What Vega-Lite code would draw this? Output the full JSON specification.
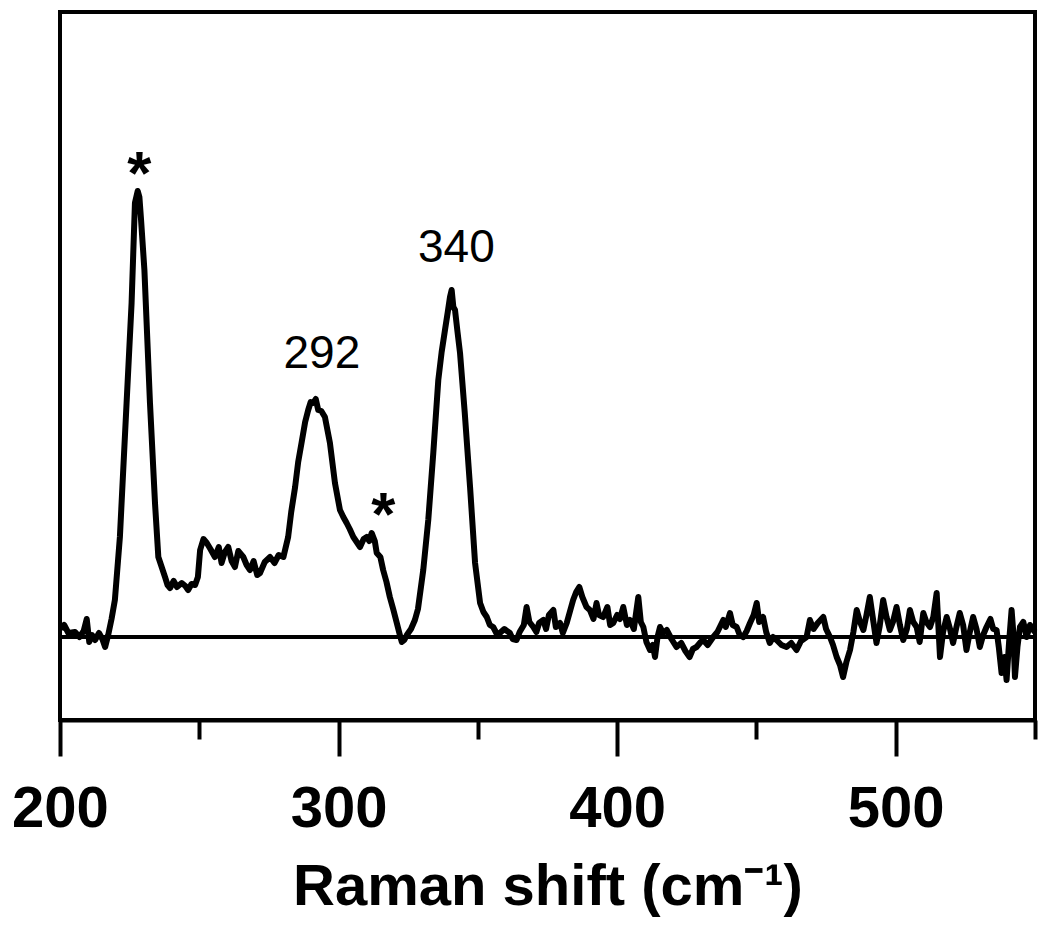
{
  "$schema": "https://vega.github.io/schema/vega-lite/v6.json",
  "width": 975,
  "height": 708,
  "autosize": {"type": "none"},
  "padding": {"left": 60, "top": 12, "right": 15, "bottom": 218},
  "background": "white",
  "config": {"view": {"stroke": "black", "strokeWidth": 4}},
  "datasets": {
    "spectrum": [
      {"shift": 200.3, "intensity": 8}, {"shift": 201.5, "intensity": 12}, {"shift": 203, "intensity": 4}, {"shift": 205.4, "intensity": 5},
      {"shift": 207, "intensity": 0}, {"shift": 208.5, "intensity": 6}, {"shift": 209.6, "intensity": 18}, {"shift": 210.5, "intensity": -5},
      {"shift": 211.5, "intensity": 2}, {"shift": 212.6, "intensity": -3}, {"shift": 214, "intensity": 4}, {"shift": 215.2, "intensity": -2},
      {"shift": 216.2, "intensity": -10}, {"shift": 217.3, "intensity": 2}, {"shift": 218.5, "intensity": 18}, {"shift": 219.7, "intensity": 37},
      {"shift": 221.5, "intensity": 100}, {"shift": 223.9, "intensity": 234}, {"shift": 225.7, "intensity": 334}, {"shift": 226.9, "intensity": 434},
      {"shift": 227.9, "intensity": 446}, {"shift": 228.5, "intensity": 440}, {"shift": 229.1, "intensity": 417}, {"shift": 230.3, "intensity": 367},
      {"shift": 232.3, "intensity": 234}, {"shift": 234.1, "intensity": 134}, {"shift": 235.3, "intensity": 80}, {"shift": 236.5, "intensity": 70},
      {"shift": 237.7, "intensity": 60}, {"shift": 238.6, "intensity": 52}, {"shift": 239.5, "intensity": 49}, {"shift": 240.8, "intensity": 56},
      {"shift": 242, "intensity": 50}, {"shift": 243.7, "intensity": 54}, {"shift": 245, "intensity": 51}, {"shift": 246, "intensity": 47},
      {"shift": 247.2, "intensity": 53}, {"shift": 248.5, "intensity": 52}, {"shift": 249.5, "intensity": 60}, {"shift": 250.3, "intensity": 87},
      {"shift": 251.5, "intensity": 98}, {"shift": 252.7, "intensity": 94}, {"shift": 254, "intensity": 88}, {"shift": 255.6, "intensity": 80},
      {"shift": 257, "intensity": 90}, {"shift": 258, "intensity": 74}, {"shift": 259.2, "intensity": 85}, {"shift": 260.4, "intensity": 90},
      {"shift": 261.6, "intensity": 76}, {"shift": 262.8, "intensity": 70}, {"shift": 264, "intensity": 86}, {"shift": 265.8, "intensity": 80},
      {"shift": 267, "intensity": 72}, {"shift": 268.2, "intensity": 67}, {"shift": 269.5, "intensity": 76}, {"shift": 270.8, "intensity": 62},
      {"shift": 271.8, "intensity": 64}, {"shift": 273.5, "intensity": 75}, {"shift": 275.4, "intensity": 80}, {"shift": 277, "intensity": 74},
      {"shift": 278.5, "intensity": 82}, {"shift": 280.2, "intensity": 80}, {"shift": 281.9, "intensity": 100}, {"shift": 283, "intensity": 125},
      {"shift": 284.4, "intensity": 150}, {"shift": 285.5, "intensity": 175}, {"shift": 286.7, "intensity": 194}, {"shift": 288, "intensity": 215},
      {"shift": 289.1, "intensity": 227}, {"shift": 290, "intensity": 235}, {"shift": 290.9, "intensity": 234}, {"shift": 291.8, "intensity": 238},
      {"shift": 292.7, "intensity": 227}, {"shift": 293.8, "intensity": 226}, {"shift": 295.1, "intensity": 220}, {"shift": 296.9, "intensity": 194},
      {"shift": 298.7, "intensity": 154}, {"shift": 300.5, "intensity": 127}, {"shift": 301.7, "intensity": 120}, {"shift": 302.9, "intensity": 114},
      {"shift": 304, "intensity": 108}, {"shift": 305.3, "intensity": 100}, {"shift": 306.5, "intensity": 95}, {"shift": 307.7, "intensity": 90},
      {"shift": 309, "intensity": 98}, {"shift": 310.1, "intensity": 100}, {"shift": 311, "intensity": 96}, {"shift": 311.9, "intensity": 104},
      {"shift": 313, "intensity": 96}, {"shift": 313.7, "intensity": 84}, {"shift": 315, "intensity": 80}, {"shift": 316, "intensity": 67},
      {"shift": 317.2, "intensity": 55}, {"shift": 318.4, "intensity": 40}, {"shift": 319.6, "intensity": 28}, {"shift": 320.9, "intensity": 14},
      {"shift": 322, "intensity": 2}, {"shift": 322.7, "intensity": -5}, {"shift": 323.6, "intensity": -3}, {"shift": 324.5, "intensity": 2},
      {"shift": 326, "intensity": 8}, {"shift": 327.4, "intensity": 17}, {"shift": 328.5, "intensity": 28}, {"shift": 330.4, "intensity": 67},
      {"shift": 332.2, "intensity": 117}, {"shift": 334, "intensity": 184}, {"shift": 335.8, "intensity": 257}, {"shift": 337, "intensity": 285},
      {"shift": 338.2, "intensity": 307}, {"shift": 339.2, "intensity": 325}, {"shift": 340, "intensity": 340}, {"shift": 340.6, "intensity": 347},
      {"shift": 341.2, "intensity": 330}, {"shift": 341.8, "intensity": 327}, {"shift": 342.7, "intensity": 305}, {"shift": 343.6, "intensity": 284},
      {"shift": 345.3, "intensity": 224}, {"shift": 347.2, "intensity": 150}, {"shift": 349, "intensity": 74}, {"shift": 350.8, "intensity": 34},
      {"shift": 352, "intensity": 25}, {"shift": 353.2, "intensity": 20}, {"shift": 354.3, "intensity": 12}, {"shift": 355.5, "intensity": 10},
      {"shift": 357, "intensity": 2}, {"shift": 357.9, "intensity": 4}, {"shift": 359.5, "intensity": 8}, {"shift": 361.5, "intensity": 4},
      {"shift": 362.5, "intensity": -2}, {"shift": 363.9, "intensity": -3}, {"shift": 365, "intensity": 5}, {"shift": 366.5, "intensity": 12},
      {"shift": 367.5, "intensity": 30}, {"shift": 368.5, "intensity": 15}, {"shift": 369.9, "intensity": 10}, {"shift": 371, "intensity": 5},
      {"shift": 372, "intensity": 14}, {"shift": 373.5, "intensity": 17}, {"shift": 374.5, "intensity": 8}, {"shift": 375.5, "intensity": 22},
      {"shift": 377.1, "intensity": 27}, {"shift": 378, "intensity": 10}, {"shift": 379.5, "intensity": 14}, {"shift": 380.5, "intensity": 4},
      {"shift": 381.9, "intensity": 14}, {"shift": 383, "intensity": 25}, {"shift": 384.2, "intensity": 37}, {"shift": 385.3, "intensity": 45},
      {"shift": 386.4, "intensity": 50}, {"shift": 387.5, "intensity": 40}, {"shift": 389, "intensity": 30}, {"shift": 390.2, "intensity": 27},
      {"shift": 391.5, "intensity": 18}, {"shift": 392.6, "intensity": 34}, {"shift": 393.5, "intensity": 22}, {"shift": 395, "intensity": 20},
      {"shift": 396.5, "intensity": 30}, {"shift": 397.5, "intensity": 12}, {"shift": 398.6, "intensity": 14}, {"shift": 400, "intensity": 22},
      {"shift": 401, "intensity": 18}, {"shift": 402.2, "intensity": 30}, {"shift": 403.5, "intensity": 12}, {"shift": 404.6, "intensity": 17},
      {"shift": 406, "intensity": 8}, {"shift": 407.6, "intensity": 40}, {"shift": 408.5, "intensity": 15}, {"shift": 409.4, "intensity": 10},
      {"shift": 410.5, "intensity": -5}, {"shift": 411.8, "intensity": -13}, {"shift": 412.8, "intensity": -8}, {"shift": 413.6, "intensity": -20},
      {"shift": 414.5, "intensity": 0}, {"shift": 415.4, "intensity": 10}, {"shift": 416.5, "intensity": 4}, {"shift": 417.8, "intensity": 7},
      {"shift": 419.5, "intensity": -2}, {"shift": 421.3, "intensity": -10}, {"shift": 423, "intensity": -6}, {"shift": 424.5, "intensity": -14},
      {"shift": 426, "intensity": -20}, {"shift": 427.2, "intensity": -12}, {"shift": 428.5, "intensity": -10}, {"shift": 430, "intensity": -5},
      {"shift": 430.9, "intensity": -3}, {"shift": 432.5, "intensity": -8}, {"shift": 434.5, "intensity": 0}, {"shift": 436, "intensity": 5},
      {"shift": 438.1, "intensity": 17}, {"shift": 439, "intensity": 10}, {"shift": 440.5, "intensity": 24}, {"shift": 441.5, "intensity": 12},
      {"shift": 442.9, "intensity": 10}, {"shift": 444, "intensity": 2}, {"shift": 445.3, "intensity": 0}, {"shift": 446.5, "intensity": 6},
      {"shift": 447.7, "intensity": 14}, {"shift": 449, "intensity": 22}, {"shift": 450.1, "intensity": 34}, {"shift": 451, "intensity": 15},
      {"shift": 452.4, "intensity": 20}, {"shift": 453.5, "intensity": 5}, {"shift": 454.8, "intensity": -6}, {"shift": 456, "intensity": 0},
      {"shift": 457.2, "intensity": -3}, {"shift": 459, "intensity": -8}, {"shift": 460.8, "intensity": -10}, {"shift": 462.5, "intensity": -6},
      {"shift": 464.4, "intensity": -13}, {"shift": 466, "intensity": -4}, {"shift": 468, "intensity": 0}, {"shift": 469.2, "intensity": 17},
      {"shift": 470.5, "intensity": 8}, {"shift": 472, "intensity": 14}, {"shift": 474, "intensity": 20}, {"shift": 475, "intensity": 8},
      {"shift": 476.4, "intensity": 0}, {"shift": 477.5, "intensity": -8}, {"shift": 478.8, "intensity": -20}, {"shift": 480, "intensity": -28},
      {"shift": 481.1, "intensity": -40}, {"shift": 482.3, "intensity": -25}, {"shift": 483.6, "intensity": -13}, {"shift": 484.8, "intensity": 5},
      {"shift": 486, "intensity": 27}, {"shift": 487.2, "intensity": 15}, {"shift": 488.4, "intensity": 7}, {"shift": 489.5, "intensity": 22},
      {"shift": 490.7, "intensity": 40}, {"shift": 492, "intensity": 15}, {"shift": 493.1, "intensity": -6}, {"shift": 494.2, "intensity": 10},
      {"shift": 495.5, "intensity": 37}, {"shift": 496.7, "intensity": 20}, {"shift": 497.9, "intensity": 7}, {"shift": 499, "intensity": 15},
      {"shift": 500.3, "intensity": 30}, {"shift": 501.5, "intensity": 12}, {"shift": 502.7, "intensity": -3}, {"shift": 504, "intensity": 8},
      {"shift": 505.1, "intensity": 27}, {"shift": 506.3, "intensity": 15}, {"shift": 507.5, "intensity": 10}, {"shift": 508.6, "intensity": -5},
      {"shift": 509.9, "intensity": 24}, {"shift": 511, "intensity": 15}, {"shift": 512.3, "intensity": 10}, {"shift": 513.5, "intensity": 20},
      {"shift": 514.7, "intensity": 44}, {"shift": 515.9, "intensity": -20}, {"shift": 517, "intensity": 5}, {"shift": 518.3, "intensity": 20},
      {"shift": 519.5, "intensity": 8}, {"shift": 520.6, "intensity": -6}, {"shift": 521.8, "intensity": 10}, {"shift": 523, "intensity": 24},
      {"shift": 524.2, "intensity": 12}, {"shift": 525.4, "intensity": -13}, {"shift": 526.6, "intensity": 5}, {"shift": 527.8, "intensity": 20},
      {"shift": 529, "intensity": 8}, {"shift": 530.2, "intensity": -10}, {"shift": 531.4, "intensity": 2}, {"shift": 532.6, "intensity": 10},
      {"shift": 534, "intensity": 18}, {"shift": 535, "intensity": 8}, {"shift": 536.2, "intensity": 7}, {"shift": 537, "intensity": -10},
      {"shift": 538, "intensity": -36}, {"shift": 539, "intensity": -20}, {"shift": 539.8, "intensity": -43}, {"shift": 540.7, "intensity": -5},
      {"shift": 541.6, "intensity": 27}, {"shift": 542.2, "intensity": 5}, {"shift": 542.8, "intensity": -40}, {"shift": 543.7, "intensity": -10},
      {"shift": 544.6, "intensity": 10}, {"shift": 545.8, "intensity": 15}, {"shift": 547, "intensity": 0}, {"shift": 548.2, "intensity": 12},
      {"shift": 549.4, "intensity": 7}, {"shift": 550, "intensity": 5}
    ],
    "numbers": [
      {"shift": 294, "intensity": 269, "label": "292"},
      {"shift": 342.3, "intensity": 375, "label": "340"}
    ],
    "stars": [
      {"shift": 228.5, "intensity": 443, "label": "*"},
      {"shift": 316.1, "intensity": 102, "label": "*"}
    ]
  },
  "encoding": {
    "x": {
      "field": "shift",
      "type": "quantitative",
      "scale": {"domain": [200, 550], "nice": false, "zero": false},
      "axis": {
        "values": [200, 250, 300, 350, 400, 450, 500, 550],
        "grid": false,
        "domain": true,
        "domainColor": "black",
        "domainWidth": 4,
        "ticks": true,
        "tickColor": "black",
        "tickWidth": 4,
        "tickSize": {"condition": {"test": "datum.value % 100 === 0", "value": 36}, "value": 19},
        "labelExpr": "datum.value % 100 === 0 ? datum.label : ''",
        "labelFont": "Liberation Sans",
        "labelFontWeight": "bold",
        "labelFontSize": 58,
        "labelColor": "black",
        "labelPadding": 24,
        "labelFlush": false,
        "labelOverlap": false,
        "title": "Raman shift (cm⁻¹)",
        "titleFont": "Liberation Sans",
        "titleFontWeight": "bold",
        "titleFontSize": 58,
        "titleColor": "black",
        "titlePadding": 20
      }
    },
    "y": {
      "field": "intensity",
      "type": "quantitative",
      "scale": {"domain": [-83, 625], "nice": false, "zero": false},
      "axis": null
    }
  },
  "layer": [
    {
      "data": {"name": "spectrum"},
      "mark": {"type": "line", "color": "black", "strokeWidth": 6, "strokeJoin": "round"}
    },
    {
      "data": {"values": [{"intensity": 0}]},
      "mark": {"type": "rule", "color": "black", "strokeWidth": 4},
      "encoding": {"x": null, "y": {"field": "intensity", "type": "quantitative"}}
    },
    {
      "data": {"name": "numbers"},
      "mark": {"type": "text", "font": "Liberation Sans", "fontSize": 46, "color": "black", "baseline": "alphabetic", "align": "center"},
      "encoding": {"text": {"field": "label"}}
    },
    {
      "data": {"name": "stars"},
      "mark": {"type": "text", "font": "Liberation Sans", "fontSize": 62, "fontWeight": "bold", "color": "black", "baseline": "alphabetic", "align": "center"},
      "encoding": {"text": {"field": "label"}}
    }
  ]
}
